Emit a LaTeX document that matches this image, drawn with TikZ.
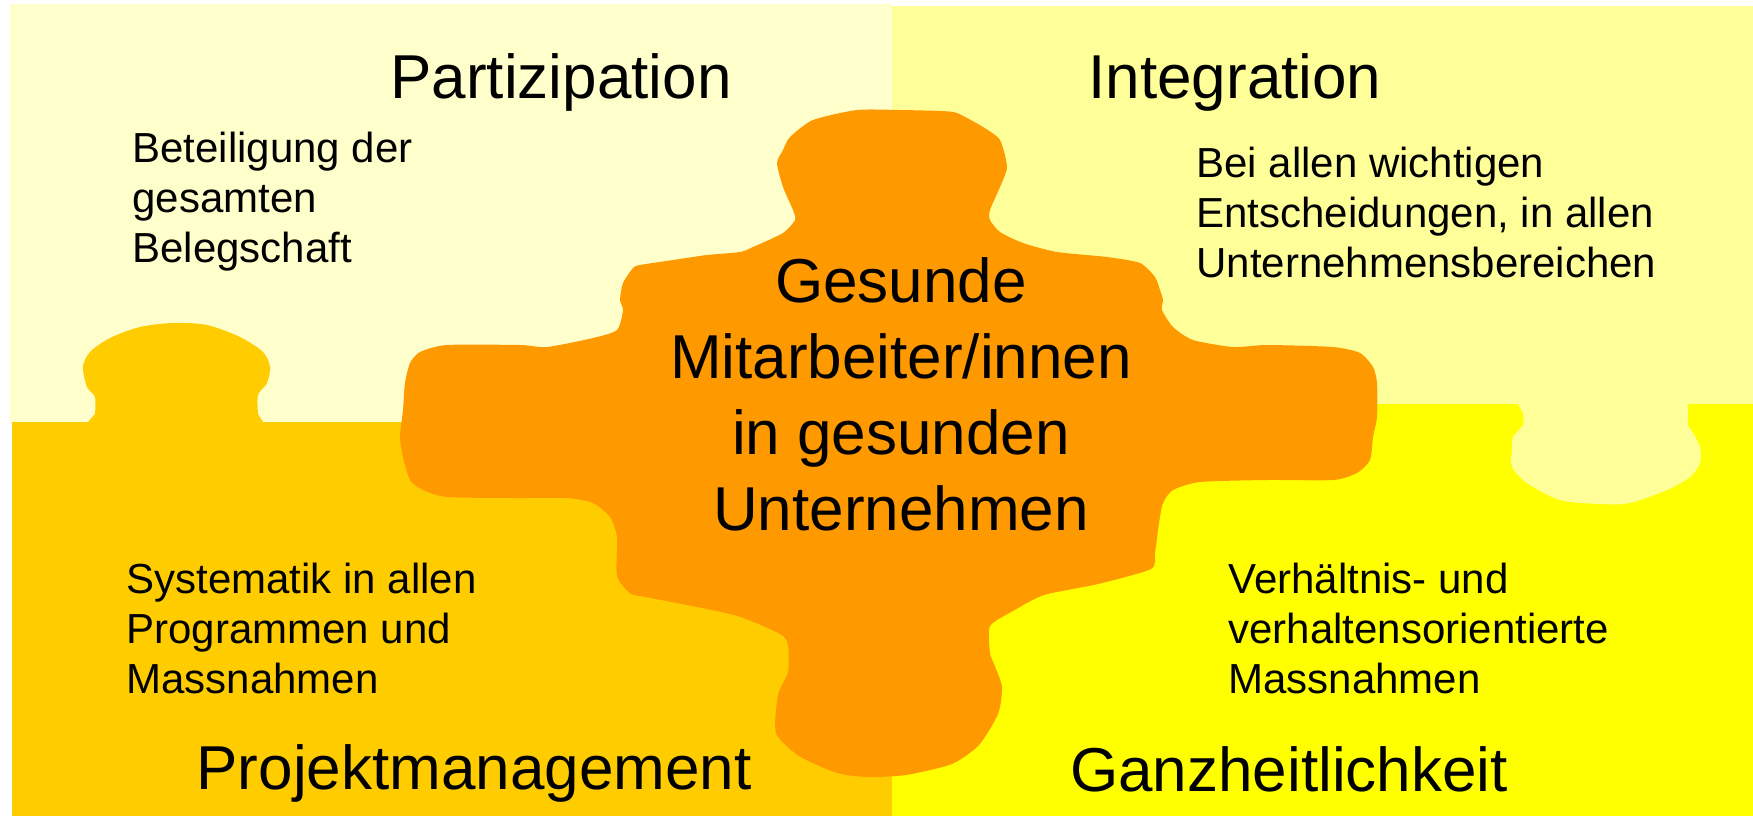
\documentclass[tikz,border=0pt]{standalone}
\usepackage{fontspec}
\setmainfont{Liberation Sans}
\definecolor{cream}{HTML}{FFFFCC}
\definecolor{paleyellow}{HTML}{FFFF99}
\definecolor{gold}{HTML}{FFCC00}
\definecolor{brightyellow}{HTML}{FFFF00}
\definecolor{coreorange}{HTML}{FF9900}
\begin{document}
\begin{tikzpicture}[x=0.5pt,y=-0.5pt,
  title/.style={font=\fontsize{31}{37}\selectfont, inner sep=0pt, anchor=base},
  body/.style={font=\fontsize{21}{25}\selectfont, inner sep=0pt, anchor=north west, align=left},
  core/.style={font=\fontsize{31}{38}\selectfont, inner sep=0pt, anchor=north, align=center}]
\useasboundingbox (0,0) rectangle (1753,816);
\fill[white] (0,0) rectangle (1753,816);
% quadrants
\fill[cream] (10,4) rectangle (892,422);
\fill[paleyellow] (892,6) rectangle (1753,404);
\fill[gold] (12,422) rectangle (892,816);
\fill[brightyellow] (892,404) rectangle (1753,816);
% tab of bottom-left piece
\fill[gold] (88,435) -- (88,422) -- plot[smooth, tension=0.5] coordinates {(95,414) (95,397) (87,387) (83,367) (90,352) (110,338) (140,327) (173,323) (207,325) (240,337) (263,352) (270,367) (267,383) (258,395) (258,414)} -- (263,422) -- (263,435) -- cycle;
% tab of top-right piece
\fill[paleyellow] (1518,396) -- (1518,404) -- plot[smooth, tension=0.5] coordinates {(1523,413) (1523,425) (1513,437) (1512,450) (1512,467) (1527,483) (1560,500) (1600,504) (1630,503) (1667,490) (1690,477) (1700,463) (1700,447) (1693,433) (1688,425) (1688,413)} -- (1688,404) -- (1688,396) -- cycle;
% central piece
\fill[coreorange] plot[smooth cycle, tension=0.4] coordinates {
(857,110) (900,110) (940,111) (957,113) (983,127) (1000,140) (1007,167) (1000,187) (990,210) (990,220) (1000,232) (1023,243) (1057,252) (1107,257) (1140,263) (1155,277) (1160,290) (1163,300) (1162,310) (1173,327) (1193,340) (1233,347) (1267,345) (1333,347) (1360,353) (1373,367) (1377,383) (1377,417) (1373,437) (1370,460) (1357,473) (1333,480) (1267,480) (1200,482) (1173,490) (1163,503) (1159,523) (1155,553) (1151,569) (1098,584) (1044,595) (1013,611) (990,626) (990,653) (994,664) (1002,687) (998,714) (979,745) (952,764) (906,775) (868,777) (837,773) (799,756) (776,733) (778,695) (788,672) (788,645) (780,634) (734,615) (646,597) (631,594) (617,576) (617,537) (610,517) (593,503) (567,498) (513,498) (447,497) (423,490) (410,480) (403,457) (400,437) (403,410) (405,383) (410,363) (420,352) (447,345) (520,345) (547,347) (593,338) (617,330) (623,310) (620,300) (623,283) (633,268) (640,265) (673,260) (707,255) (740,252) (753,247) (783,233) (795,220) (793,210) (783,187) (777,163) (783,150) (790,137) (813,120)};
% titles
\node[title] (partizipation) at (561,98) {Partizipation};
\node[title] (integration) at (1235,98) {Integration};
\node[title] (projekt) at (474,789) {Projektmanagement};
\node[title] (ganzheit) at (1289,791) {Ganzheitlichkeit};
% descriptions
\node[body] (beteiligung) at (132,132) {Beteiligung der\\gesamten\\Belegschaft};
\node[body] (entscheidungen) at (1196,147) {Bei allen wichtigen\\Entscheidungen, in allen\\Unternehmensbereichen};
\node[body] (systematik) at (126,563) {Systematik in allen\\Programmen und\\Massnahmen};
\node[body] (verhaeltnis) at (1228,563) {Verhältnis- und\\verhaltensorientierte\\Massnahmen};
% centre text
\node[core] (gesunde) at (901,257) {Gesunde\\Mitarbeiter/innen\\in gesunden\\Unternehmen};
\end{tikzpicture}
\end{document}
